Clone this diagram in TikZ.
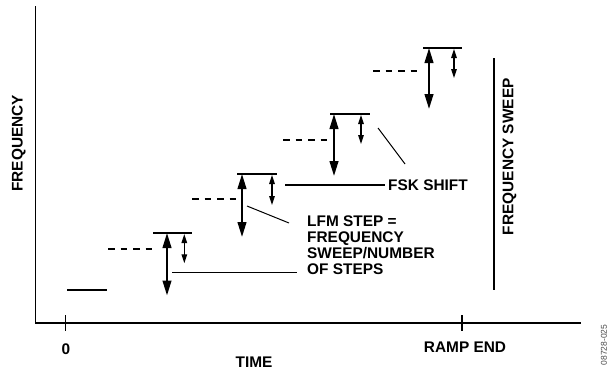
\documentclass[tikz,border=0pt]{standalone}
\usepackage{fontspec}
\setmainfont{Liberation Sans}
\usetikzlibrary{arrows.meta}
\begin{document}
\begin{tikzpicture}[x=1pt,y=-1pt,
  axis/.style={line width=1.5pt},
  level/.style={line width=2pt},
  prev/.style={line width=2pt, dash pattern=on 6.5pt off 6pt},
  bigarr/.style={line width=2pt, {Triangle[length=15pt,width=8.7pt]}-{Triangle[length=15pt,width=8.7pt]}},
  smallarr/.style={line width=1.3pt, {Triangle[length=9pt,width=5.5pt]}-{Triangle[length=9pt,width=5.5pt]}},
  leader/.style={line width=1.3pt},
  lbl/.style={inner sep=0pt, font=\fontsize{15.4}{16}\selectfont\bfseries},
]
\useasboundingbox (0,0) rectangle (609,373);
% axes
\coordinate (ytop) at (35.7,6);
\coordinate (orig) at (35.7,323);
\coordinate (xend) at (581,323);
\draw[axis] (ytop) -- (orig) -- (xend);
\coordinate (t0a) at (65.7,315); \coordinate (t0b) at (65.7,331);
\draw[axis] (t0a) -- (t0b);
\coordinate (tra) at (462,315); \coordinate (trb) at (462,331);
\draw[axis] (tra) -- (trb);
\node[lbl] (zero) at (66,348.7) {0};
\node[lbl] (time) at (254,362) {TIME};
\node[lbl] (ramp) at (465,347) {RAMP END};
\node[lbl, rotate=90, anchor=base] (freq) at (22.7,143.3) {FREQUENCY};
\node[lbl, rotate=90, anchor=base] (fsweep) at (513.3,156.7) {FREQUENCY SWEEP};
% sweep bar
\coordinate (swa) at (494,58); \coordinate (swb) at (494,290);
\draw[leader] (swa) -- (swb);
% base level
\coordinate (b0a) at (67,290); \coordinate (b0b) at (107,290);
\draw[leader] (b0a) -- (b0b);
% step 1
\coordinate (d1a) at (108,249); \coordinate (d1b) at (153,249);
\draw[prev] (d1a) -- (d1b);
\coordinate (l1a) at (153,233); \coordinate (l1b) at (192,233);
\draw[level] (l1a) -- (l1b);
\coordinate (a1t) at (167,233); \coordinate (a1b) at (167,295.5);
\draw[bigarr] (a1t) -- (a1b);
\coordinate (s1t) at (184.3,234); \coordinate (s1b) at (184.3,263.3);
\draw[smallarr] (s1t) -- (s1b);
% step 2
\coordinate (d2a) at (192,199); \coordinate (d2b) at (236,199);
\draw[prev] (d2a) -- (d2b);
\coordinate (l2a) at (237,174); \coordinate (l2b) at (277,174);
\draw[level] (l2a) -- (l2b);
\coordinate (a2t) at (242,174); \coordinate (a2b) at (242,237);
\draw[bigarr] (a2t) -- (a2b);
\coordinate (s2t) at (272,175); \coordinate (s2b) at (272,205);
\draw[smallarr] (s2t) -- (s2b);
% step 3
\coordinate (d3a) at (283,140); \coordinate (d3b) at (327,140);
\draw[prev] (d3a) -- (d3b);
\coordinate (l3a) at (330,114); \coordinate (l3b) at (370,114);
\draw[level] (l3a) -- (l3b);
\coordinate (a3t) at (334,114); \coordinate (a3b) at (334,176);
\draw[bigarr] (a3t) -- (a3b);
\coordinate (s3t) at (361,115); \coordinate (s3b) at (361,144);
\draw[smallarr] (s3t) -- (s3b);
% step 4
\coordinate (d4a) at (373,71); \coordinate (d4b) at (417,71);
\draw[prev] (d4a) -- (d4b);
\coordinate (l4a) at (423,48); \coordinate (l4b) at (462,48);
\draw[level] (l4a) -- (l4b);
\coordinate (a4t) at (429,48); \coordinate (a4b) at (429,109);
\draw[bigarr] (a4t) -- (a4b);
\coordinate (s4t) at (454,49); \coordinate (s4b) at (454,78);
\draw[smallarr] (s4t) -- (s4b);
% labels
\node[lbl, anchor=west] (fsk) at (388,185) {FSK SHIFT};
\node[lbl, anchor=north west, align=left] (lfm) at (307,215.7) {LFM STEP =\\FREQUENCY\\SWEEP/NUMBER\\OF STEPS};
% leaders
\coordinate (ld1a) at (172.3,272.3); \coordinate (ld1b) at (297,272.3);
\draw[leader] (ld1a) -- (ld1b);
\coordinate (ld2a) at (285,185); \coordinate (ld2b) at (385,185);
\draw[leader] (ld2a) -- (ld2b);
\coordinate (dg1a) at (247,206); \coordinate (dg1b) at (289,223);
\draw[leader, line width=1pt] (dg1a) -- (dg1b);
\coordinate (dg2a) at (378,128); \coordinate (dg2b) at (405,164);
\draw[leader, line width=1pt] (dg2a) -- (dg2b);
% watermark
\node[inner sep=0pt, rotate=90, text=black!70, font=\fontsize{8.5}{8.5}\selectfont] (wm) at (604,345) {08728-025};
\end{tikzpicture}
\end{document}
